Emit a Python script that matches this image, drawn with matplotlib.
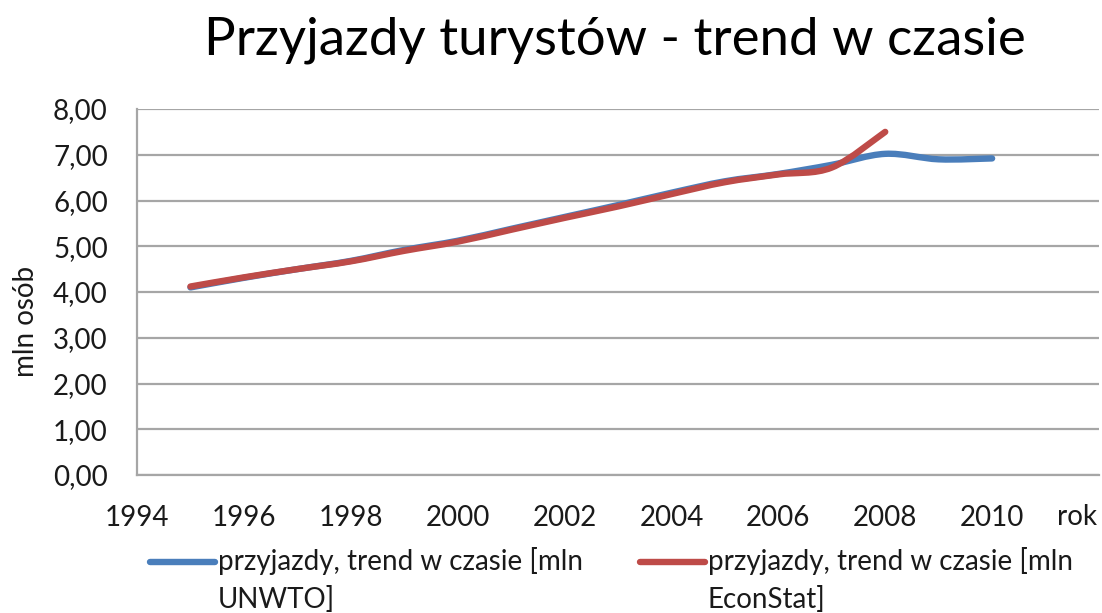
import numpy as np
import matplotlib
matplotlib.use('Agg')
import matplotlib.pyplot as plt
from matplotlib.path import Path
from matplotlib.patches import PathPatch
from matplotlib.lines import Line2D

plt.rcParams['font.family'] = ['Lato', 'DejaVu Sans']

# data
years_unwto = [1995, 1996, 1997, 1998, 1999, 2000, 2001, 2002, 2003, 2004,
               2005, 2006, 2007, 2008, 2009, 2010]
unwto = [4.10, 4.31, 4.50, 4.68, 4.92, 5.12, 5.38, 5.64, 5.90, 6.17,
         6.42, 6.58, 6.78, 7.02, 6.90, 6.92]
years_econstat = [1995, 1996, 1997, 1998, 1999, 2000, 2001, 2002, 2003, 2004,
                  2005, 2006, 2007, 2008]
econstat = [4.12, 4.32, 4.50, 4.67, 4.90, 5.10, 5.36, 5.62, 5.87, 6.14,
            6.40, 6.57, 6.72, 7.50]
xticks = [1994, 1996, 1998, 2000, 2002, 2004, 2006, 2008, 2010]
yticks = [0, 1, 2, 3, 4, 5, 6, 7, 8]

blue = '#4A7EBB'
red = '#BE4B48'
grid_c = '#A6A6A6'


def smooth_path(x, y):
    # excel-like smoothed line: catmull-rom segments as cubic bezier
    pts = np.column_stack([x, y]).astype(float)
    p = np.vstack([pts[0], pts, pts[-1]])
    verts = [pts[0]]
    codes = [Path.MOVETO]
    for i in range(1, len(p) - 2):
        c1 = p[i] + (p[i + 1] - p[i - 1]) / 6
        c2 = p[i + 1] - (p[i + 2] - p[i]) / 6
        verts += [c1, c2, p[i + 1]]
        codes += [Path.CURVE4] * 3
    return Path(verts, codes)


fig = plt.figure(figsize=(11.02, 6.13), dpi=100)
ax = fig.add_axes([137 / 1102, 1 - 475 / 613, (1099 - 137) / 1102, (475 - 109) / 613])

for xs, ys, c in [(years_unwto, unwto, blue), (years_econstat, econstat, red)]:
    patch = PathPatch(smooth_path(xs, ys), fill=False, edgecolor=c, lw=4.6,
                      capstyle='round', joinstyle='round', zorder=3)
    ax.add_patch(patch)

ax.set_xlim(1994, 2012)
ax.set_ylim(0, 8)
ax.set_xticks(xticks)
ax.set_xticklabels([str(t) for t in xticks])
ax.set_yticks(yticks)
ax.set_yticklabels([('%.2f' % v).replace('.', ',') for v in yticks])
ax.tick_params(axis='both', length=0, labelsize=20, colors='#1a1a1a')
ax.tick_params(axis='y', pad=21)
ax.tick_params(axis='x', pad=21.5)
ax.yaxis.grid(True, color=grid_c, lw=1.6)
ax.set_axisbelow(True)
for s in ['top', 'right']:
    ax.spines[s].set_visible(False)
for s in ['left', 'bottom']:
    ax.spines[s].set_color(grid_c)
    ax.spines[s].set_linewidth(1.6)

fig.text(1077 / 1102, 1 - 525 / 613, 'rok', fontsize=20, ha='center', va='baseline', color='#1a1a1a')
fig.text(615 / 1102, 1 - 55 / 613, 'Przyjazdy turystów - trend w czasie', fontsize=38,
         ha='center', va='baseline')
fig.text(26 / 1102, 292 / 613, 'mln osób', fontsize=20, rotation=90, ha='center', va='center',
         color='#1a1a1a')

# legend below the chart, drawn by hand so the handle sits on the first line
legend_items = [(150, blue, 'przyjazdy, trend w czasie [mln\nUNWTO]'),
                (640, red, 'przyjazdy, trend w czasie [mln\nEconStat]')]
for x0, c, lab in legend_items:
    fig.add_artist(Line2D([x0 / 1102, (x0 + 65) / 1102], [1 - 562 / 613] * 2, color=c, lw=4.6,
                          solid_capstyle='round'))
    fig.text((x0 + 68) / 1102, 1 - 608 / 613, lab, fontsize=20, ha='left', va='baseline',
             linespacing=1.5, color='#1a1a1a')

fig.savefig('out.png', dpi=100)
